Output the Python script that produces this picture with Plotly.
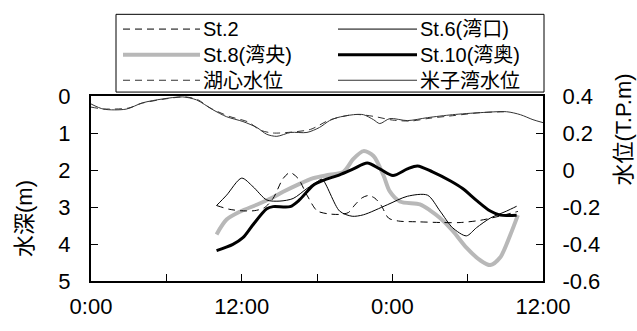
import plotly.graph_objects as go

# ---------------- data ----------------
# water level (T.P.m), right axis
wl_hours_yonago = [0.0, 1.0, 2.8, 4.1, 5.7, 7.3, 8.4, 9.7, 10.8, 12.1, 13.2, 14.0, 14.8, 15.9, 17.2, 18.2,
                   19.0, 19.6, 20.9, 21.7, 22.5, 23.0, 23.8, 25.2, 26.8, 28.8, 31.0, 33.1, 34.2, 35.2, 36.0]
wl_yonago = [0.357, 0.329, 0.329, 0.363, 0.384, 0.395, 0.379, 0.326, 0.288, 0.262, 0.230, 0.193, 0.182, 0.203,
             0.203, 0.230, 0.267, 0.283, 0.299, 0.299, 0.272, 0.251, 0.278, 0.267, 0.283, 0.299, 0.310, 0.315,
             0.299, 0.272, 0.256]
wl_hours_koshin = [0.0, 1.0, 3.0, 4.0, 6.0, 7.5, 8.5, 9.5, 11.0, 12.5, 13.5, 14.5, 16.0, 17.5, 19.0, 21.0,
                   22.5, 24.0, 25.5, 27.0, 29.0, 31.0, 33.0]
wl_koshin = [0.34, 0.33, 0.335, 0.36, 0.385, 0.395, 0.38, 0.335, 0.29, 0.26, 0.215, 0.20, 0.205, 0.22, 0.27,
             0.30, 0.29, 0.27, 0.265, 0.28, 0.295, 0.31, 0.315]

# depth (m), left axis
st2_hours = [10.0, 11.0, 11.9, 13.0, 13.8, 14.5, 15.3, 15.85, 16.5, 17.2, 18.0, 18.8, 19.8, 20.5, 21.0, 21.6,
             22.1, 22.6, 23.1, 23.7, 24.5, 26.0, 28.0, 29.4, 31.0, 32.5, 34.0]
st2_depth = [2.96, 3.06, 3.10, 3.10, 3.02, 2.77, 2.23, 2.07, 2.23, 2.68, 3.10, 3.18, 3.20, 3.15, 2.95, 2.75,
             2.69, 2.76, 2.95, 3.30, 3.38, 3.40, 3.42, 3.42, 3.36, 3.25, 3.12]

st6_hours = [10.0, 10.8, 12.0, 12.9, 14.0, 15.05, 16.1, 17.2, 18.0, 18.4, 19.8, 20.8, 21.7, 23.6, 25.2, 26.8,
             27.8, 28.8, 29.9, 30.7, 31.8, 33.1, 33.9]
st6_depth = [2.96, 2.68, 2.22, 2.45, 2.81, 2.84, 2.77, 2.50, 2.32, 2.25, 3.11, 3.25, 3.21, 2.94, 2.71, 2.68,
             3.11, 3.56, 3.78, 3.56, 3.30, 3.11, 2.98]

st8_hours = [10.0, 10.8, 11.9, 13.2, 14.3, 15.3, 16.4, 17.7, 19.0, 20.1, 20.9, 21.7, 22.5, 23.3, 23.8, 24.6,
             26.2, 27.0, 27.8, 28.8, 29.9, 31.0, 31.8, 32.6, 33.4, 34.0]
st8_depth = [3.74, 3.34, 3.12, 2.94, 2.77, 2.59, 2.41, 2.22, 2.13, 2.05, 1.70, 1.49, 1.62, 2.15, 2.58, 2.85,
             2.93, 3.09, 3.30, 3.64, 4.10, 4.44, 4.57, 4.36, 3.75, 3.22]

st10_hours = [10.0, 11.3, 12.1, 12.9, 14.0, 14.5, 15.85, 16.6, 17.7, 18.5, 19.8, 20.9, 22.0, 23.0, 24.05,
              25.2, 26.0, 27.2, 28.6, 29.6, 30.7, 31.8, 32.6, 33.9]
st10_depth = [4.18, 4.01, 3.83, 3.48, 3.05, 2.99, 2.99, 2.81, 2.41, 2.28, 2.13, 1.97, 1.81, 1.97, 2.15,
              1.97, 1.89, 2.05, 2.29, 2.50, 2.82, 3.11, 3.22, 3.22]

x_tickvals = [0, 6, 12, 18, 24, 30, 36]
x_ticktext = ["0:00", "", "12:00", "", "0:00", "", "12:00"]
y_tickvals = [0, 1, 2, 3, 4, 5]
y2_tickvals = [0.4, 0.2, 0.0, -0.2, -0.4, -0.6]
y2_ticktext = ["0.4", "0.2", "0", "-0.2", "-0.4", "-0.6"]

legend_names = [["St.2", "St.8(湾央)", "湖心水位"], ["St.6(湾口)", "St.10(湾奥)", "米子湾水位"]]

# ---------------- styles ----------------
FONT = "Liberation Sans, Arial, Noto Sans CJK JP, sans-serif"
TICK_SIZE = 22
LEG_SIZE = 20
S_ST2 = dict(color="#000000", width=1, dash="7px,5px")
S_ST6 = dict(color="#000000", width=1)
S_ST8 = dict(color="#b8b8b8", width=4)
S_ST10 = dict(color="#000000", width=3)
S_KOSHIN = dict(color="#333333", width=1, dash="7px,5px")
S_YONAGO = dict(color="#333333", width=1)

W, H = 637, 331
L, R, T, B = 91, 543, 96, 284

fig = go.Figure()


def add(x, y, style, axis="y"):
    fig.add_trace(go.Scatter(x=x, y=y, yaxis=axis, mode="lines", line=dict(shape="spline", smoothing=0.8, **style),
                             showlegend=False, hoverinfo="skip"))


add(wl_hours_koshin, wl_koshin, S_KOSHIN, "y2")
add(wl_hours_yonago, wl_yonago, S_YONAGO, "y2")
add(st8_hours, st8_depth, S_ST8)
add(st2_hours, st2_depth, S_ST2)
add(st6_hours, st6_depth, S_ST6)
add(st10_hours, st10_depth, S_ST10)

axis_common = dict(showline=True, linecolor="black", linewidth=2, ticks="inside", tickcolor="black",
                   ticklen=7, tickwidth=1, showgrid=False, zeroline=False,
                   tickfont=dict(family=FONT, size=TICK_SIZE, color="black"))

fig.update_layout(
    width=W, height=H, autosize=False,
    margin=dict(l=L, r=W - R, t=T, b=H - B, pad=0),
    plot_bgcolor="white", paper_bgcolor="white",
    font=dict(family=FONT, size=TICK_SIZE, color="black"),
    xaxis=dict(range=[0, 36], tickmode="array", tickvals=x_tickvals, ticktext=x_ticktext, mirror=True,
               ticklabelstandoff=5, **axis_common),
    yaxis=dict(range=[5, 0], tickmode="array", tickvals=y_tickvals, ticklabelstandoff=14, **axis_common),
    yaxis2=dict(range=[-0.6, 0.4], overlaying="y", side="right", tickmode="array", tickvals=y2_tickvals,
                ticktext=y2_ticktext, ticklabelstandoff=13, **axis_common),
)


def pxp(x):
    return (x - L) / (R - L)


def pyp(y):
    return (B - y) / (B - T)


# axis titles
fig.add_annotation(x=pxp(24), y=pyp(221), xref="paper", yref="paper", text="水深(m)", textangle=-90,
                   xanchor="center", yanchor="middle",
                   showarrow=False, font=dict(family=FONT, size=22, color="black"))
fig.add_annotation(x=pxp(623), y=pyp(130), xref="paper", yref="paper", text="水位(T.P.m)", textangle=-90,
                   xanchor="center", yanchor="middle",
                   showarrow=False, font=dict(family=FONT, size=22, color="black"))

# legend box
fig.add_shape(type="rect", xref="paper", yref="paper", x0=pxp(116), x1=pxp(544), y0=pyp(92), y1=pyp(13),
              line=dict(color="black", width=1), fillcolor="white", layer="above")
row_y = [28, 54, 80]
col_styles = [[S_ST2, S_ST8, S_KOSHIN], [S_ST6, S_ST10, S_YONAGO]]
col_line_x = [(123, 200), (338, 417)]
col_text_x = [202, 419]
for c in range(2):
    for r in range(3):
        st = col_styles[c][r]
        fig.add_shape(type="line", xref="paper", yref="paper", x0=pxp(col_line_x[c][0]), x1=pxp(col_line_x[c][1]),
                      y0=pyp(row_y[r]), y1=pyp(row_y[r]),
                      line=dict(color=st["color"], width=st["width"], dash=st.get("dash", "solid")),
                      layer="above")
    # one multi-line text block per legend column (line spacing = 1.3 em)
    fig.add_annotation(x=pxp(col_text_x[c]), y=pyp(row_y[1]), xref="paper", yref="paper",
                       text="<br>".join(legend_names[c]), showarrow=False, xanchor="left", yanchor="middle",
                       align="left", borderpad=0, font=dict(family=FONT, size=LEG_SIZE, color="black"))

fig.write_html("out.html")
